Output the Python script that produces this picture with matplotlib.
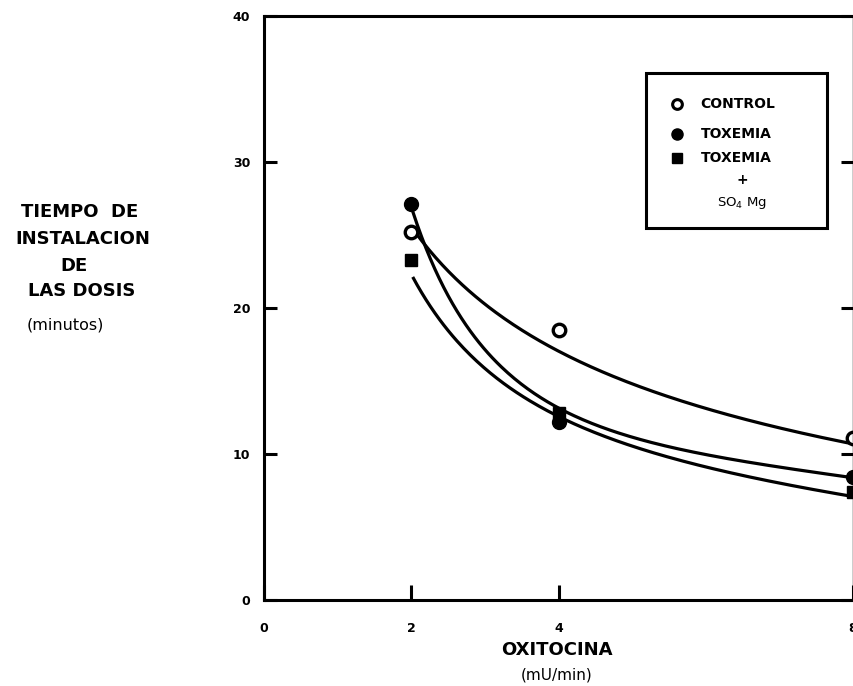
import matplotlib
matplotlib.use("Agg")
import matplotlib.pyplot as plt
import matplotlib.patches as patches
import numpy as np

plt.rcParams["font.family"] = "DejaVu Sans"

# Puntos medidos (minutos)
dosis = [2, 4, 8]
control = [25.2, 18.5, 11.1]
toxemia = [27.1, 12.2, 8.4]
toxemia_mg = [23.3, 12.8, 7.4]

# Curvas dibujadas a mano
curva_control_x = [2.0, 2.23, 2.69, 3.14, 3.59, 4.09, 4.47, 4.93, 5.38, 6.06, 6.37, 6.83, 7.28, 7.83, 8.0]
curva_control_y = [25.9, 23.8, 21.2, 19.7, 18.3, 17.2, 16.2, 15.0, 14.0, 12.9, 12.4, 11.7, 11.3, 11.0, 11.0]
curva_tox_x = [2.02, 2.23, 2.46, 2.69, 3.14, 3.59, 4.02, 4.70, 5.38, 6.06, 6.60, 7.28, 8.0]
curva_tox_y = [26.6, 23.8, 21.2, 19.2, 16.4, 14.4, 13.0, 11.8, 10.75, 9.9, 9.25, 8.8, 8.5]
curva_mg_x = [2.02, 2.23, 2.46, 2.69, 3.14, 3.59, 4.02, 4.70, 5.38, 6.06, 6.60, 7.28, 8.0]
curva_mg_y = [22.4, 20.1, 18.5, 17.3, 15.4, 13.9, 12.5, 11.2, 9.9, 8.9, 8.3, 7.75, 7.2]

xticks = [0, 2, 4, 8]
yticks = [0, 10, 20, 30, 40]


def curva_suave(xs, ys):
    # suavizado de la curva leida (ajuste en log x)
    c = np.polyfit(np.log(xs), ys, 3)
    xx = np.linspace(xs[0], xs[-1], 200)
    return xx, np.polyval(c, np.log(xx))


fig = plt.figure(figsize=(8.54, 6.86), dpi=100)
ax = fig.add_axes([264 / 854, 86 / 686, 589 / 854, 584 / 686])

for xs, ys in [(curva_control_x, curva_control_y),
               (curva_tox_x, curva_tox_y),
               (curva_mg_x, curva_mg_y)]:
    xx, yy = curva_suave(xs, ys)
    ax.plot(xx, yy, color="black", lw=2.3, solid_capstyle="butt")

ax.plot(dosis, control, "o", ms=9, mfc="white", mec="black", mew=2.4, ls="none")
ax.plot(dosis, toxemia, "o", ms=10, color="black", ls="none")
ax.plot(dosis, toxemia_mg, "s", ms=9, color="black", ls="none")

ax.set_xlim(0, 8)
ax.set_ylim(0, 40)
ax.set_xticks(xticks)
ax.set_yticks(yticks)
ax.set_xticklabels([str(t) for t in xticks], fontsize=9, fontweight="bold")
ax.set_yticklabels([str(t) for t in yticks], fontsize=9, fontweight="bold")
ax.tick_params(axis="x", direction="in", length=11, width=2.2, pad=16)
ax.tick_params(axis="y", direction="in", length=9, width=2.2, pad=10,
               right=True)
for s in ["left", "bottom", "top"]:
    ax.spines[s].set_linewidth(2.2)
ax.spines["right"].set_linewidth(1.0)

# titulo del eje x (en pixeles de la figura)
fig.text(557 / 854, 1 - 650 / 686, "OXITOCINA", ha="center", va="center",
         fontsize=13, fontweight="bold")
fig.text(557 / 854, 1 - 675 / 686, "(mU/min)", ha="center", va="center",
         fontsize=11)

# titulo del eje y, a la izquierda
fig.text(80 / 854, 1 - 212 / 686, "TIEMPO  DE", ha="center", va="center",
         fontsize=13, fontweight="bold")
fig.text(83 / 854, 1 - 239 / 686, "INSTALACION", ha="center", va="center",
         fontsize=13, fontweight="bold")
fig.text(74 / 854, 1 - 266 / 686, "DE", ha="center", va="center",
         fontsize=13, fontweight="bold")
fig.text(82 / 854, 1 - 291 / 686, "LAS DOSIS", ha="center", va="center",
         fontsize=13, fontweight="bold")
fig.text(65 / 854, 1 - 325 / 686, "(minutos)", ha="center", va="center",
         fontsize=11.5)

# leyenda dibujada a mano
caja = patches.Rectangle((0.648, 0.637), 0.308, 0.265, transform=ax.transAxes,
                         fill=False, lw=2.2, edgecolor="black")
ax.add_patch(caja)
ax.plot([0.702], [0.849], "o", ms=7, mfc="white", mec="black", mew=2.2,
        transform=ax.transAxes)
ax.plot([0.702], [0.798], "o", ms=8, color="black", transform=ax.transAxes)
ax.plot([0.702], [0.757], "s", ms=7, color="black", transform=ax.transAxes)
ax.text(0.741, 0.849, "CONTROL", transform=ax.transAxes, va="center",
        fontsize=10, fontweight="bold")
ax.text(0.741, 0.798, "TOXEMIA", transform=ax.transAxes, va="center",
        fontsize=10, fontweight="bold")
ax.text(0.741, 0.757, "TOXEMIA", transform=ax.transAxes, va="center",
        fontsize=10, fontweight="bold")
ax.text(0.812, 0.719, "+", transform=ax.transAxes, ha="center", va="center",
        fontsize=10, fontweight="bold")
ax.text(0.812, 0.680, "SO$_4$ Mg", transform=ax.transAxes, ha="center",
        va="center", fontsize=9.5)

fig.savefig("out.png", dpi=100)
